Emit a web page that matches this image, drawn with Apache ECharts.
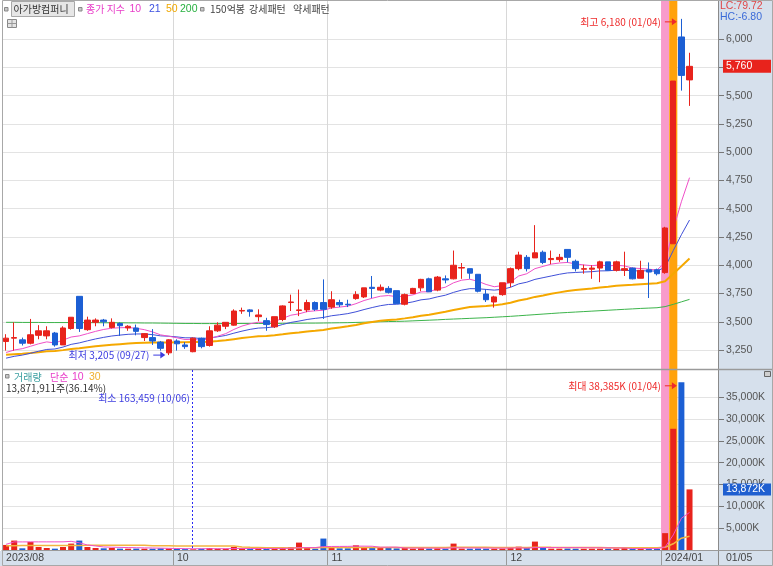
<!DOCTYPE html>
<html><head><meta charset="utf-8">
<script src="https://cdn.jsdelivr.net/npm/echarts@6/dist/echarts.min.js"></script>
<style>html,body{margin:0;padding:0;background:#fff}#c{width:773px;height:566px}</style>
</head><body><div id="c"></div>
<script>
// ---------------- data ----------------
const dates = ['08/30','08/31',
'09/01','09/04','09/05','09/06','09/07','09/08','09/11','09/12','09/13','09/14','09/15','09/18','09/19','09/20','09/21','09/22','09/25','09/26','09/27',
'10/04','10/05','10/06','10/10','10/11','10/12','10/13','10/16','10/17','10/18','10/19','10/20','10/23','10/24','10/25','10/26','10/27','10/30','10/31',
'11/01','11/02','11/03','11/06','11/07','11/08','11/09','11/10','11/13','11/14','11/15','11/16','11/17','11/20','11/21','11/22','11/23','11/24','11/27','11/28','11/29','11/30',
'12/01','12/04','12/05','12/06','12/07','12/08','12/11','12/12','12/13','12/14','12/15','12/18','12/19','12/20','12/21','12/22','12/26','12/27','12/28',
'01/02','01/03','01/04','01/05'];
const padCats = ['p1','p2','p3'];

const opens = [3325,3355,3340,3310,3380,3375,3400,3295,3440,3725,
3430,3495,3515,3450,3485,3445,3445,3360,3360,3320,
3225,3330,3295,3235,3355,3290,3420,3460,3470,3595,
3605,3545,3510,3455,3520,3670,3600,3605,3670,3670,
3630,3670,3655,3705,3720,3805,3780,3795,3775,3655,
3750,3800,3880,3780,3880,3880,3975,3970,3920,3745,
3675,3740,3845,3970,4070,4065,4115,4050,4050,4140,
4035,3965,3965,3975,4030,3955,3955,3975,3885,3960,
3960,3935,4190,6020,5640];
const closes = [3355,3360,3310,3385,3420,3420,3295,3445,3540,3440,
3515,3515,3500,3495,3465,3460,3415,3395,3330,3265,
3340,3305,3280,3355,3280,3420,3470,3495,3595,3600,
3590,3560,3475,3545,3640,3675,3605,3670,3610,3610,
3695,3650,3650,3740,3800,3795,3805,3760,3660,3740,
3795,3875,3765,3895,3870,4000,3980,3930,3770,3695,
3720,3845,3970,4090,3970,4110,4025,4060,4070,4070,
3970,3970,3975,4030,3955,4030,3970,3880,3955,3940,
3925,4330,5630,5680,5760];
const lows = [3245,3245,3290,3300,3345,3345,3280,3295,3430,3410,
3420,3460,3460,3440,3375,3420,3380,3330,3295,3245,
3205,3245,3260,3230,3265,3280,3410,3435,3465,3570,
3545,3505,3420,3445,3505,3595,3550,3585,3595,3525,
3615,3630,3630,3695,3710,3710,3770,3750,3660,3645,
3745,3770,3765,3770,3840,3875,3880,3880,3760,3675,
3625,3730,3805,3955,3945,4065,4010,4010,4030,4025,
3945,3925,3880,3850,3955,3945,3905,3875,3885,3710,
3910,3925,4190,5545,5410];
const highs = [3390,3495,3360,3525,3470,3460,3410,3460,3540,3725,
3545,3530,3525,3530,3495,3470,3475,3400,3435,3330,
3345,3345,3320,3360,3360,3460,3495,3495,3610,3625,
3610,3610,3535,3545,3645,3740,3785,3695,3680,3875,
3770,3695,3695,3770,3800,3905,3830,3815,3775,3750,
3800,3880,3890,3905,3910,4130,4020,3970,3920,3785,
3730,3845,3980,4120,4090,4355,4130,4130,4100,4140,
4050,4005,4000,4040,4030,4040,4120,3980,4040,4025,
3970,4340,5630,6180,5880];

// volume in thousands of shares (K)
const volumes = [1155,2156,385,1848,693,462,308,693,1463,2156,
693,462,385,462,308,300,320,300,290,385,
330,230,210,163,300,462,300,300,693,462,
230,300,230,300,462,693,1694,462,300,2618,
693,385,385,1078,462,693,462,693,370,540,
310,420,330,380,300,1463,320,300,340,310,
300,330,462,770,462,1925,462,310,300,330,
300,290,300,310,300,320,693,300,310,300,
290,3860,27750,38385,13872];

// exponential moving averages of close
const ema10 = [3228,3250,3262,3283,3305,3322,3312,3338,3365,3375,
3395,3415,3432,3443,3447,3449,3442,3430,3410,3384,
3372,3358,3343,3345,3335,3350,3372,3395,3432,3462,
3482,3496,3493,3503,3530,3558,3570,3590,3597,3602,
3622,3630,3638,3660,3688,3708,3726,3732,3722,3726,
3738,3764,3766,3790,3806,3845,3868,3876,3858,3830,
3810,3820,3852,3905,3925,3970,3990,4010,4020,4025,
4012,4003,3996,4003,3994,4000,3994,3975,3971,3965,
3958,4025,4315,4562,4775];
const ema21 = [3178,3194,3205,3221,3239,3255,3259,3276,3300,3313,
3331,3348,3362,3374,3382,3389,3392,3392,3386,3375,
3372,3366,3358,3358,3351,3357,3367,3379,3399,3417,
3433,3444,3447,3456,3476,3494,3506,3520,3530,3538,
3553,3562,3572,3588,3608,3626,3642,3653,3655,3663,
3676,3694,3702,3720,3735,3760,3780,3793,3792,3786,
3780,3787,3805,3835,3850,3875,3890,3905,3920,3932,
3936,3940,3943,3950,3951,3957,3957,3950,3951,3950,
3948,3983,4130,4270,4400];
const ema50 = [3208,3213,3217,3223,3231,3238,3241,3249,3259,3266,
3275,3283,3290,3296,3302,3308,3312,3315,3316,3316,
3317,3318,3318,3320,3320,3324,3329,3336,3346,3356,
3364,3371,3375,3380,3389,3399,3405,3414,3420,3428,
3440,3450,3460,3472,3486,3498,3508,3516,3521,3530,
3540,3553,3562,3576,3588,3604,3618,3630,3636,3640,
3645,3654,3668,3688,3702,3720,3733,3748,3760,3772,
3780,3788,3795,3804,3810,3818,3824,3827,3832,3836,
3840,3858,3925,3992,4060];
const ema200 = [3495,3495,3494,3494,3494,3493,3493,3493,3493,3492,
3492,3492,3491,3491,3491,3490,3490,3489,3489,3488,
3487,3486,3485,3485,3484,3484,3484,3484,3484,3485,
3485,3485,3485,3485,3486,3487,3487,3488,3488,3489,
3490,3491,3492,3494,3496,3498,3500,3502,3503,3505,
3508,3511,3514,3517,3521,3524,3527,3530,3533,3536,
3540,3544,3548,3553,3558,3563,3568,3573,3578,3582,
3586,3590,3594,3598,3602,3606,3610,3614,3618,3621,
3624,3634,3654,3676,3698];

// simple moving averages of volume (K)
const volMa10 = [1300,1850,1850,1860,1860,1860,1860,1870,1980,1650,
1150,920,700,640,600,560,520,490,460,420,
380,340,310,290,290,300,300,300,330,340,
340,350,350,360,370,400,530,540,550,770,
810,820,830,880,880,860,640,660,660,460,
440,440,430,420,400,510,480,460,450,440,
430,430,450,500,420,560,560,560,550,540,
540,530,510,500,490,450,470,330,320,320,
320,680,3450,7250,8600];
const volMa30 = [1000,1000,1010,1010,1020,1020,1030,1030,1040,1050,
1060,1100,1100,1100,1100,1090,1090,1080,1000,960,
950,940,930,930,930,920,920,920,910,700,
620,580,540,520,500,480,500,500,490,560,
560,560,560,580,580,590,590,600,600,600,
600,600,600,600,600,620,620,620,610,610,
600,600,600,600,600,640,630,610,600,600,
590,560,560,550,540,540,540,530,530,520,
520,620,1420,2700,3150];

const priceTicks = [3250,3500,3750,4000,4250,4500,4750,5000,5250,5500,5750,6000];
const volTicks = [5000,10000,15000,20000,25000,30000,35000];
const monthStarts = ['08/30','10/04','11/01','12/01','01/02'];
const monthNames = ['2023/08','10','11','12','2024/01'];
const band150 = ['01/02'];
const bandStrong = ['01/03'];

// ---------------- chart ----------------
const NUM = "'Liberation Sans Narrow','Arial Narrow','Liberation Sans',sans-serif";
const KR = "'Noto Sans CJK KR',sans-serif";
const UP = '#e8231c', DOWN = '#1c5fd4';
const fmt = v => Number(v).toLocaleString('en-US');

const cats = dates.concat(padCats);
const monthIdx = monthStarts.map(d => dates.indexOf(d));
const innerMonthIdx = monthIdx.slice(1);
const candleData = dates.map((d, i) => [opens[i], closes[i], lows[i], highs[i]]);
const volData = dates.map((d, i) => ({value: volumes[i], itemStyle: {color: closes[i] >= opens[i] ? UP : DOWN}}));
const bandA = cats.map(d => band150.includes(d) ? 1 : null);
const bandB = cats.map(d => bandStrong.includes(d) ? 1 : null);

const chart = echarts.init(document.getElementById('c'), null, {renderer: 'canvas', width: 773, height: 566});

const line = (data, color, width, xi, yi, z) => ({
  type: 'line', data, xAxisIndex: xi, yAxisIndex: yi, symbol: 'none', silent: true,
  lineStyle: {color, width}, z: z || 2, animation: false
});

const option = {
  animation: false,
  backgroundColor: '#ffffff',
  grid: [
    {left: 2, right: 55, top: 0, height: 369},
    {left: 2, right: 55, top: 370, height: 180},
    {left: 2, right: 55, top: 0, height: 551}
  ],
  xAxis: [
    {type: 'category', gridIndex: 0, data: cats, boundaryGap: true,
     axisLine: {show: false}, axisTick: {show: false}, axisLabel: {show: false},
     splitLine: {show: true, interval: (i) => innerMonthIdx.includes(i), lineStyle: {color: '#d8d8d8', width: 1}}},
    {type: 'category', gridIndex: 1, data: cats, boundaryGap: true,
     axisLine: {show: true, lineStyle: {color: '#9a9a9a'}},
     axisTick: {show: true, interval: (i) => monthIdx.includes(i), length: 15, lineStyle: {color: '#9a9a9a'}},
     axisLabel: {show: true, interval: (i) => monthIdx.includes(i),
       formatter: (v) => { const k = monthStarts.indexOf(v); return k >= 0 ? monthNames[k] : ''; },
       align: 'left', margin: 3, color: '#444', fontSize: 10.5, fontFamily: NUM},
     splitLine: {show: true, interval: (i) => innerMonthIdx.includes(i), lineStyle: {color: '#d8d8d8', width: 1}}},
    {type: 'category', gridIndex: 2, data: cats, boundaryGap: true, show: false}
  ],
  yAxis: [
    {type: 'value', gridIndex: 0, position: 'right', min: 3082, max: 6347,
     axisLine: {show: true, lineStyle: {color: '#8a8a8a'}},
     axisTick: {show: true, length: 6, customValues: priceTicks, lineStyle: {color: '#777'}},
     axisLabel: {show: true, customValues: priceTicks, formatter: v => fmt(v), color: '#555', fontSize: 10.5, fontFamily: NUM, margin: 8},
     splitLine: {show: true, lineStyle: {color: '#e3e3e3'}}},
    {type: 'value', gridIndex: 1, position: 'right', min: 0, max: 41200,
     axisLine: {show: true, lineStyle: {color: '#8a8a8a'}},
     axisTick: {show: true, length: 6, customValues: volTicks, lineStyle: {color: '#777'}},
     axisLabel: {show: true, customValues: volTicks, formatter: v => fmt(v) + 'K', color: '#555', fontSize: 10.5, fontFamily: NUM, margin: 8},
     splitLine: {show: true, lineStyle: {color: '#e3e3e3'}}},
    {type: 'value', gridIndex: 2, min: 0, max: 1, show: false}
  ],
  series: [
    {type: 'bar', name: 'band150', xAxisIndex: 2, yAxisIndex: 2, data: bandA, barWidth: '100%', barGap: '-100%',
     itemStyle: {color: '#f89bcb'}, z: 1, silent: true},
    {type: 'bar', name: 'bandStrong', xAxisIndex: 2, yAxisIndex: 2, data: bandB, barWidth: '100%', barGap: '-100%',
     itemStyle: {color: '#ffa20c'}, z: 1, silent: true},
    line(ema200, '#3cb44b', 1, 0, 0),
    line(ema50, '#f5a800', 2, 0, 0),
    line(ema21, '#4050d8', 1, 0, 0),
    line(ema10, '#f050c8', 1, 0, 0),
    {type: 'candlestick', xAxisIndex: 0, yAxisIndex: 0, data: candleData, barWidth: 6, z: 3, silent: true,
     itemStyle: {color: UP, color0: DOWN, borderColor: UP, borderColor0: DOWN, borderWidth: 1}},
    {type: 'bar', xAxisIndex: 1, yAxisIndex: 1, data: volData, barWidth: 6, z: 3, silent: true},
    line(volMa30, '#f2b441', 1.5, 1, 1, 4),
    line(volMa10, '#f050c8', 1, 1, 1, 4)
  ]
};
chart.setOption(option);

// ---------------- annotations / decorations ----------------
const P = (xi, yi, d, v) => chart.convertToPixel({xAxisIndex: xi, yAxisIndex: yi}, [d, v]);
function T(text, x, y, color, size, font, align) {
  return {type: 'text', x, y, z: 30, silent: true,
    style: {text, fill: color, font: (size || 11) + 'px ' + (font || KR),
      textAlign: align || 'left', align: align || 'left', textVerticalAlign: 'middle', verticalAlign: 'middle'}};
}
function R(x, y, w, h, fill, stroke, z) {
  return {type: 'rect', z: z === undefined ? 30 : z, silent: true, shape: {x, y, width: w, height: h},
    style: {fill: fill || 'none', stroke: stroke || 'none', lineWidth: 1}};
}
function L(x1, y1, x2, y2, stroke, w, z, dash) {
  const st = {stroke, lineWidth: w || 1};
  if (dash) st.lineDash = dash;
  return {type: 'line', z: z === undefined ? 25 : z, silent: true, shape: {x1, y1, x2, y2}, style: st};
}
function arrow(tipX, y, color) {
  return [L(tipX - 12, y, tipX - 3, y, color, 1, 30),
    {type: 'polygon', z: 30, silent: true, shape: {points: [[tipX - 5, y - 3.5], [tipX, y], [tipX - 5, y + 3.5]]}, style: {fill: color}}];
}

const g = [];
// panels
g.push(R(718, 0, 55, 566, '#d6e0ec', null, -10));
g.push(R(0, 551, 718, 15, '#d6e0ec', null, -10));
g.push(L(718.5, 0, 718.5, 566, '#8a8a8a', 1, 20));
g.push(L(2, 369.5, 773, 369.5, '#9a9a9a', 1.5, 20));
g.push(L(2, 550.5, 773, 550.5, '#9a9a9a', 1, 20));
g.push(R(2.5, 0.5, 770, 565, null, '#a8a8a8', 20));

// top legend
g.push(R(4.5, 7.5, 3.5, 3.5, '#c8c8c8', '#888'));
g.push(R(11.5, 1.5, 63, 15, '#e6e6e6', '#a8a8a8'));
g.push(T('아가방컴퍼니', 13.5, 9.5, '#333', 10, KR));
g.push(R(78.5, 7.5, 3.5, 3.5, '#c8c8c8', '#888'));
g.push(T('종가 지수', 86, 9.5, '#e83cc8', 10, KR));
g.push(T('10', 129.5, 9.5, '#e83cc8', 10.5, NUM));
g.push(T('21', 149, 9.5, '#3c50e0', 10.5, NUM));
g.push(T('50', 166, 9.5, '#f0a800', 10.5, NUM));
g.push(T('200', 180, 9.5, '#28b040', 10.5, NUM));
g.push(R(200.5, 7.5, 3.5, 3.5, '#c8c8c8', '#888'));
g.push(T('150억봉', 210, 9.5, '#444', 10, KR));
g.push(T('강세패턴', 249, 9.5, '#444', 10, KR));
g.push(T('약세패턴', 293, 9.5, '#444', 10, KR));
// small table icon
g.push(R(7.5, 19.5, 9, 8, '#e4e4e4', '#888'));
g.push(L(7.5, 23.5, 16.5, 23.5, '#999', 1, 31));
g.push(L(12, 19.5, 12, 27.5, '#999', 1, 31));
// right-top indicators
g.push(T('LC:79.72', 720, 6, '#e04848', 10.5, NUM));
g.push(T('HC:-6.80', 720, 17, '#3a6ad8', 10.5, NUM));
// volume legend
g.push(R(5.5, 374.5, 3.5, 3.5, '#c8c8c8', '#888'));
g.push(T('거래량', 14, 377.5, '#3a9ea0', 10, KR));
g.push(T('단순', 50, 377.5, '#e83cc8', 10, KR));
g.push(T('10', 72, 377.5, '#e83cc8', 10.5, NUM));
g.push(T('30', 89, 377.5, '#f0b030', 10.5, NUM));
g.push(T('13,871,911주(36.14%)', 6, 388.5, '#333', 10, KR));
// small icon at right of volume pane
g.push(R(764.5, 371.5, 6, 5, '#cfcfcf', '#666'));
// last date in strip
g.push(T(dates[dates.length - 1], 726, 558.5, '#444', 10.5, NUM));

// high annotation
const hiV = Math.max(...highs), hiD = dates[highs.indexOf(hiV)];
const ph = P(0, 0, hiD, hiV);
const hx = ph[0] - 4.5, hy = ph[1] + 3;
g.push(T('최고 ' + fmt(hiV) + ' (' + hiD + ')', hx - 16, hy, '#ee2a2a', 10, KR, 'right'));
g.push(...arrow(hx, hy, '#ee2a2a'));
// low annotation
const loV = Math.min(...lows), loD = dates[lows.indexOf(loV)];
const pl = P(0, 0, loD, loV);
const lx = pl[0] - 3.5, ly = pl[1];
g.push(T('최저 ' + fmt(loV) + ' (' + loD + ')', lx - 16, ly, '#3c3ce0', 10, KR, 'right'));
g.push(...arrow(lx, ly, '#3c3ce0'));
// max volume annotation
const mvV = Math.max(...volumes), mvD = dates[volumes.indexOf(mvV)];
const pm = P(1, 1, mvD, mvV);
const mx = pm[0] - 4.5, my = pm[1] + 3.5;
g.push(T('최대 ' + fmt(mvV) + 'K (' + mvD + ')', mx - 16, my, '#ee2a2a', 10, KR, 'right'));
g.push(...arrow(mx, my, '#ee2a2a'));
// min volume annotation with dashed guide
const nvD = dates[volumes.indexOf(Math.min(...volumes))];
const pn = P(1, 1, nvD, 0);
const pTop = P(1, 1, nvD, 41200);
const dx = Math.round(pn[0]) - 0.5;
g.push(L(dx, pTop[1], dx, pn[1], '#2a2af5', 1, 26, [2, 2]));
g.push(T('최소 163,459 (' + nvD + ')', dx - 2.5, 398, '#3c3ce0', 10, KR, 'right'));

// last price box
const lastC = closes[closes.length - 1];
const pc = P(0, 0, dates[dates.length - 1], lastC);
g.push(R(723, pc[1] - 6.5, 48, 13, '#e8231c', null, 29));
g.push(T(fmt(lastC), 726, pc[1], '#ffffff', 10.5, NUM));
// last volume box
const lastV = volumes[volumes.length - 1];
const pv = P(1, 1, dates[dates.length - 1], lastV);
g.push(R(723, pv[1] - 6, 48, 12, '#1f5fd0', null, 29));
g.push(T(fmt(lastV) + 'K', 726, pv[1], '#ffffff', 10.5, NUM));

chart.setOption({graphic: g});
</script>
</body></html>
